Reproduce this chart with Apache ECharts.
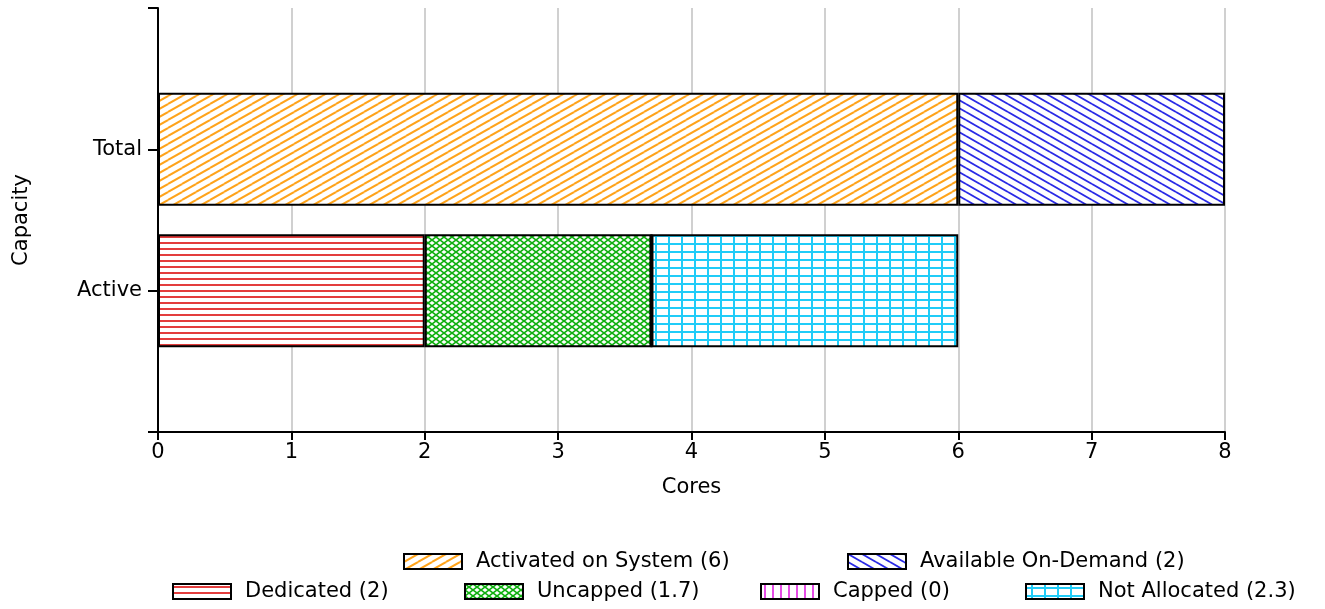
<!DOCTYPE html>
<html lang="en">
<head>
	<meta charset="UTF-8">
	<title>Capacity</title>
	<script src="https://cdn.jsdelivr.net/npm/echarts@6/dist/echarts.min.js"></script>
	<style>
		html,body{width:100%;height:100%;margin:0;background:#fff;}
		#chart{width:1325px;height:609px;}
	</style>
</head>
<body>
	<div id="chart"></div>
<script>
	// y categories (ends are blank padding slots)
	var categories = ['', 'Active', 'Total', ''];
	var seriesNames = ['Activated on System (6)', 'Available On-Demand (2)', 'Dedicated (2)', 'Uncapped (1.7)', 'Capped (0)', 'Not Allocated (2.3)'];
	var activatedVals = ['-', '-', 6, '-'];
	var onDemandVals = ['-', '-', 2, '-'];
	var dedicatedVals = ['-', 2, '-', '-'];
	var uncappedVals = ['-', 1.7, '-', '-'];
	var cappedVals = ['-', 0, '-', '-'];
	var notAllocVals = ['-', 2.3, '-', '-'];
	var xTicks = [0, 1, 2, 3, 4, 5, 6, 7, 8];

	var FONT = 'DejaVu Sans';
	var FS = 21;

	/**
	 * build a repeating hatch tile
	 */
	function hatch(w, h, color, lw, drawFn) {
		var c = document.createElement('canvas');
		c.width = w; c.height = h;
		var ctx = c.getContext('2d');
		ctx.fillStyle = '#fff';
		ctx.fillRect(0, 0, w, h);
		ctx.strokeStyle = color;
		ctx.lineWidth = lw;
		for (var dx = -w; dx <= w; dx += w) {
			for (var dy = -h; dy <= h; dy += h) {
				ctx.save();
				ctx.translate(dx, dy);
				drawFn(ctx, w, h);
				ctx.restore();
			}
		}
		return {image: c, repeat: 'repeat'};
	}

	var patOrange = hatch(14, 8, '#ffa31a', 2, function (ctx, w, h) {
		ctx.beginPath(); ctx.moveTo(0, h); ctx.lineTo(w, 0); ctx.stroke();
	});
	var patBlue = hatch(14, 8, '#2a2ae6', 1.8, function (ctx, w, h) {
		ctx.beginPath(); ctx.moveTo(0, 0); ctx.lineTo(w, h); ctx.stroke();
	});
	var patRed = hatch(8, 6, '#e02828', 1.8, function (ctx, w, h) {
		ctx.beginPath(); ctx.moveTo(0, 3); ctx.lineTo(w, 3); ctx.stroke();
	});
	var patGreen = hatch(8, 6, '#10b010', 1.6, function (ctx, w, h) {
		ctx.beginPath(); ctx.moveTo(0, 0); ctx.lineTo(w, h); ctx.stroke();
		ctx.beginPath(); ctx.moveTo(0, h); ctx.lineTo(w, 0); ctx.stroke();
	});
	var patMagenta = hatch(8, 8, '#e020e0', 1.6, function (ctx, w, h) {
		ctx.beginPath(); ctx.moveTo(4, 0); ctx.lineTo(4, h); ctx.stroke();
	});
	var patCyan = hatch(13, 8, '#20ccf8', 2, function (ctx, w, h) {
		ctx.beginPath(); ctx.moveTo(6, 0); ctx.lineTo(6, h); ctx.stroke();
		ctx.beginPath(); ctx.moveTo(0, 4); ctx.lineTo(w, 4); ctx.stroke();
	});

	var fills = [patOrange, patBlue, patRed, patGreen, patMagenta, patCyan];
	var values = [activatedVals, onDemandVals, dedicatedVals, uncappedVals, cappedVals, notAllocVals];
	var legendPos = [[403, 551], [847, 551], [172, 581], [464, 581], [760, 581], [1025, 581]];

	var myChart = echarts.init(document.getElementById('chart'));

	var series = [];
	var legends = [];
	for (var i = 0; i < seriesNames.length; i++) {
		series.push({
			name: seriesNames[i],
			type: 'bar',
			stack: 'cap',
			barWidth: 113,
			data: values[i],
			itemStyle: {color: fills[i], borderColor: '#000', borderWidth: 2},
			emphasis: {disabled: true}
		});
		legends.push({
			data: [{name: seriesNames[i], icon: 'rect'}],
			left: legendPos[i][0],
			top: legendPos[i][1],
			padding: 0,
			itemWidth: 58,
			itemHeight: 15,
			selectedMode: false,
			textStyle: {fontFamily: FONT, fontSize: FS, color: '#000', padding: [0, 0, 0, 9]}
		});
	}

	var options = {
		backgroundColor: '#fff',
		animation: false,
		textStyle: {fontFamily: FONT},
		grid: {left: 158, right: 100, top: 8, bottom: 177, containLabel: false},
		legend: legends,
		xAxis: {
			type: 'value',
			min: xTicks[0],
			max: xTicks[xTicks.length - 1],
			interval: 1,
			name: 'Cores',
			nameLocation: 'middle',
			nameGap: 45,
			nameTextStyle: {fontFamily: FONT, fontSize: FS, color: '#000'},
			axisLine: {show: true, lineStyle: {color: '#000', width: 2}},
			axisTick: {show: true, length: 8, lineStyle: {color: '#000', width: 2}},
			axisLabel: {fontFamily: FONT, fontSize: FS, color: '#000', margin: 10},
			splitLine: {show: true, lineStyle: {color: '#d0d0d0', width: 2}}
		},
		yAxis: {
			type: 'category',
			data: categories,
			boundaryGap: false,
			name: 'Capacity',
			nameLocation: 'middle',
			nameRotate: 90,
			nameGap: 126,
			nameTextStyle: {fontFamily: FONT, fontSize: FS, color: '#000'},
			axisLine: {show: true, lineStyle: {color: '#000', width: 2}},
			axisTick: {show: true, length: 10, alignWithLabel: true, lineStyle: {color: '#000', width: 2}},
			axisLabel: {fontFamily: FONT, fontSize: FS, color: '#000', margin: 16, interval: 0},
			splitLine: {show: false}
		},
		series: series
	};
	myChart.setOption(options);
</script>
</body>
</html>
